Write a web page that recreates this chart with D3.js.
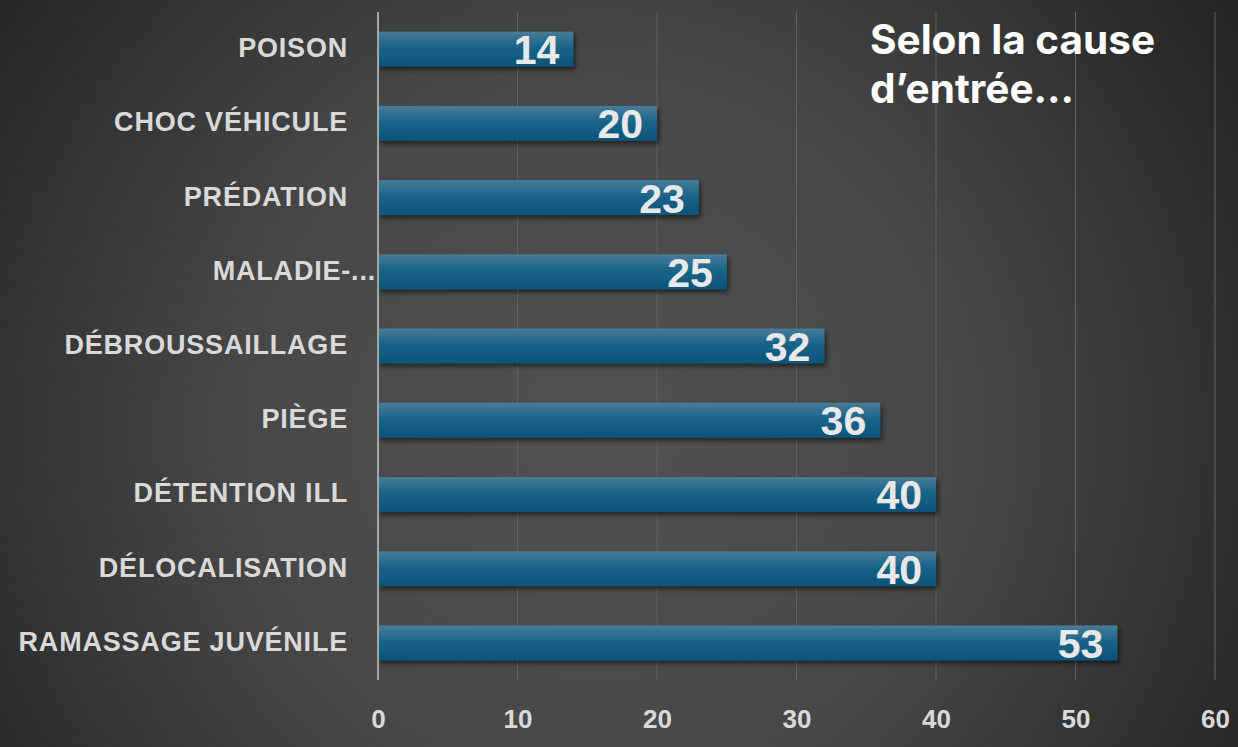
<!DOCTYPE html>
<html><head><meta charset="utf-8">
<script src="https://cdn.jsdelivr.net/npm/d3@7"></script>
<style>html,body{margin:0;padding:0;background:#333;}svg{display:block;}</style>
</head><body>
<svg id="chart" width="1238" height="747"></svg>
<script>
const categories = ["POISON","CHOC VÉHICULE","PRÉDATION","MALADIE-...","DÉBROUSSAILLAGE","PIÈGE","DÉTENTION ILL","DÉLOCALISATION","RAMASSAGE JUVÉNILE"];
const values = [14,20,23,25,32,36,40,40,53];
const tickValues = [0,10,20,30,40,50,60];
const titleLines = ["Selon la cause","d’entrée..."];

const W=1238,H=747;
const svg=d3.select("#chart");
const defs=svg.append("defs");
const rg=defs.append("radialGradient").attr("id","bg").attr("gradientUnits","userSpaceOnUse")
  .attr("cx",600).attr("cy",430).attr("r",820);
rg.append("stop").attr("offset","0").attr("stop-color","#525252");
rg.append("stop").attr("offset","0.45").attr("stop-color","#474747");
rg.append("stop").attr("offset","1").attr("stop-color","#1e1e1e");
svg.append("rect").attr("width",W).attr("height",H).attr("fill","url(#bg)");

const lg=defs.append("linearGradient").attr("id","bar").attr("x1",0).attr("y1",0).attr("x2",0).attr("y2",1);
lg.append("stop").attr("offset","0").attr("stop-color","#487c99");
lg.append("stop").attr("offset","0.45").attr("stop-color","#1a6489");
lg.append("stop").attr("offset","1").attr("stop-color","#0a5479");
const f=defs.append("filter").attr("id","sh").attr("x","-5%").attr("y","-20%").attr("width","110%").attr("height","160%");
f.append("feDropShadow").attr("dx",2).attr("dy",3).attr("stdDeviation",2.5).attr("flood-color","#000").attr("flood-opacity",0.55);

const x=d3.scaleLinear().domain([0,60]).range([378,1215]);
const y=d3.scaleBand().domain(categories).range([12,680]).paddingInner(0.53).paddingOuter(0.265);

// gridlines
svg.append("g").selectAll("line").data(tickValues.filter(d=>d>0)).join("line")
  .attr("x1",d=>x(d)).attr("x2",d=>x(d)).attr("y1",12).attr("y2",680)
  .attr("stroke","#626262").attr("stroke-width",1);

// bars
svg.append("g").selectAll("rect").data(values).join("rect")
  .attr("x",x(0)).attr("y",(d,i)=>y(categories[i]))
  .attr("width",d=>x(d)-x(0)).attr("height",y.bandwidth())
  .attr("fill","url(#bar)").attr("filter","url(#sh)");

// axis line
svg.append("line").attr("x1",x(0)).attr("x2",x(0)).attr("y1",12).attr("y2",680)
  .attr("stroke","#a6a6a6").attr("stroke-width",2);

// value labels
svg.append("g").selectAll("text").data(values).join("text")
  .attr("x",d=>x(d)-14).attr("y",(d,i)=>y(categories[i])+y.bandwidth()/2+15)
  .attr("text-anchor","end").attr("font-family","Liberation Sans, Arial, sans-serif")
  .attr("font-weight","bold").attr("font-size",41).attr("fill","#e8e8e8").text(d=>d);

// category labels
svg.append("g").selectAll("text").data(categories).join("text")
  .attr("x",d=>d.endsWith("...")?376:348).attr("y",d=>y(d)+y.bandwidth()/2+8)
  .attr("text-anchor","end").attr("font-family","Liberation Sans, Arial, sans-serif")
  .attr("font-weight","bold").attr("font-size",27).attr("letter-spacing",0.8)
  .attr("fill","#d9d9d9").text(d=>d);

// x tick labels
const xa=svg.append("g").attr("transform","translate(0,680)")
  .call(d3.axisBottom(x).tickValues(tickValues).tickSize(0).tickPadding(30));
xa.select(".domain").remove();
xa.selectAll("text").attr("font-family","Liberation Sans, Arial, sans-serif")
  .attr("font-weight","bold").attr("font-size",26).attr("fill","#d9d9d9");

// title
svg.append("g").selectAll("text").data(titleLines).join("text")
  .attr("x",870).attr("y",(d,i)=>54+i*49)
  .attr("font-family","Inter, Open Sans, sans-serif").attr("font-weight","bold")
  .attr("font-size",40.5).attr("fill","#ffffff").text(d=>d);
</script>
</body></html>
